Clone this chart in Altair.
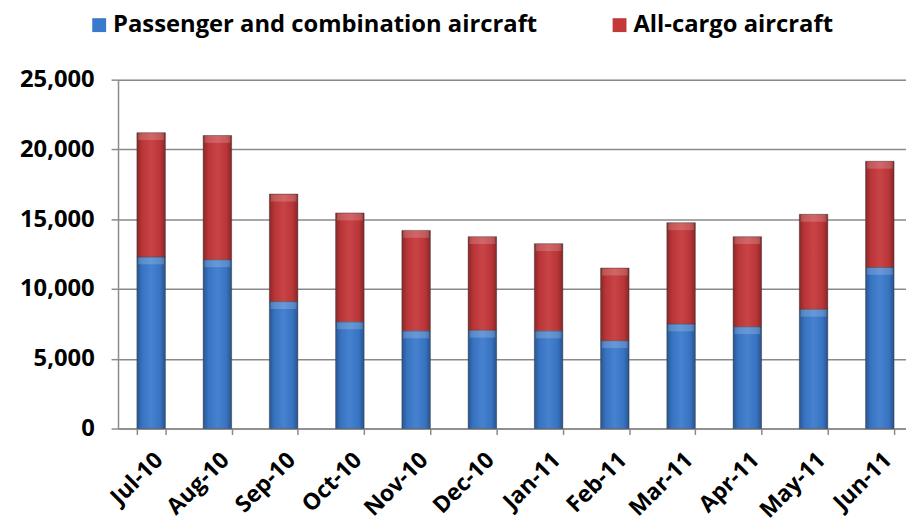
import altair as alt
import pandas as pd

months = ["Jul-10", "Aug-10", "Sep-10", "Oct-10", "Nov-10", "Dec-10",
          "Jan-11", "Feb-11", "Mar-11", "Apr-11", "May-11", "Jun-11"]
passenger = [12300, 12100, 9100, 7650, 7000, 7050, 7000, 6300, 7500, 7300, 8550, 11550]
cargo = [8900, 8900, 7700, 7800, 7200, 6700, 6250, 5200, 7250, 6450, 6800, 7600]
series = ["Passenger and combination aircraft", "All-cargo aircraft"]
colors = ["#3a7acd", "#c5383a"]
y_ticks = [0, 5000, 10000, 15000, 20000, 25000]

rows = []
for i, m in enumerate(months):
    rows.append({"month": m, "series": series[0], "idx": 0, "value": passenger[i]})
    rows.append({"month": m, "series": series[1], "idx": 1, "value": cargo[i]})
df = pd.DataFrame(rows)

FONT = "Open Sans"

base = alt.Chart(df).transform_stack(
    stack="value", groupby=["month"], as_=["y0", "y1"],
    sort=[alt.SortField("idx", order="ascending")]
)

xenc = alt.X("month:N", sort=months, title=None,
             scale=alt.Scale(range=[0, 802], paddingInner=0.57, paddingOuter=0.285),
             axis=alt.Axis(labelAngle=-45, labelFont=FONT, labelFontWeight="bold",
                           labelFontSize=23, labelColor="#000", labelPadding=14,
                           tickBand="extent", tickSize=6, tickColor="#8a8a8a",
                           domainColor="#8a8a8a", domainWidth=1.5, tickWidth=1.5,
                           grid=False))

bars = base.mark_bar(stroke="#4a4a4a", strokeWidth=0.8, strokeOpacity=0.6).encode(
    x=xenc,
    y=alt.Y("y0:Q", title=None,
            scale=alt.Scale(domain=[0, 25000], nice=False),
            axis=alt.Axis(values=y_ticks, format=",d", labelFont=FONT,
                          labelFontWeight="bold", labelFontSize=24, labelColor="#000",
                          labelPadding=17, tickSize=7, tickColor="#8a8a8a",
                          tickWidth=1.5, domainColor="#8a8a8a", domainWidth=1.5,
                          gridColor="#8a8a8a", gridWidth=1.5)),
    y2="y1:Q",
    color=alt.Color("series:N", sort=series,
                    scale=alt.Scale(domain=series, range=colors),
                    legend=alt.Legend(orient="none", legendX=-31, legendY=-67,
                                      direction="horizontal", columns=2, title=None,
                                      symbolType="square", symbolSize=196,
                                      symbolStrokeWidth=0, labelFont=FONT,
                                      labelFontWeight="bold", labelFontSize=24,
                                      labelColor="#000", labelOffset=2,
                                      labelLimit=600,
                                      columnPadding=70, padding=0)),
)

shade = base.mark_bar(
    color=alt.LinearGradient(
        gradient="linear", x1=0, x2=1, y1=0, y2=0,
        stops=[alt.GradientStop(color="rgba(0,0,0,0.30)", offset=0),
               alt.GradientStop(color="rgba(0,0,0,0.06)", offset=0.18),
               alt.GradientStop(color="rgba(255,255,255,0.06)", offset=0.5),
               alt.GradientStop(color="rgba(0,0,0,0.06)", offset=0.82),
               alt.GradientStop(color="rgba(0,0,0,0.32)", offset=1)])
).encode(x=alt.X("month:N", sort=months), y="y0:Q", y2="y1:Q")

bevel = base.mark_tick(thickness=7, size=26, yOffset=4, color="white", opacity=0.18).encode(
    x=alt.X("month:N", sort=months), y="y1:Q"
)

chart = alt.layer(bars, shade, bevel).properties(
    width=795, height=352,
    autosize=alt.AutoSizeParams(type="none"),
    padding={"left": 111, "top": 70, "right": 0, "bottom": 93},
).configure_view(stroke=None).configure(background="white")

chart.save("out.html", embed_options={"renderer": "svg", "actions": False})
